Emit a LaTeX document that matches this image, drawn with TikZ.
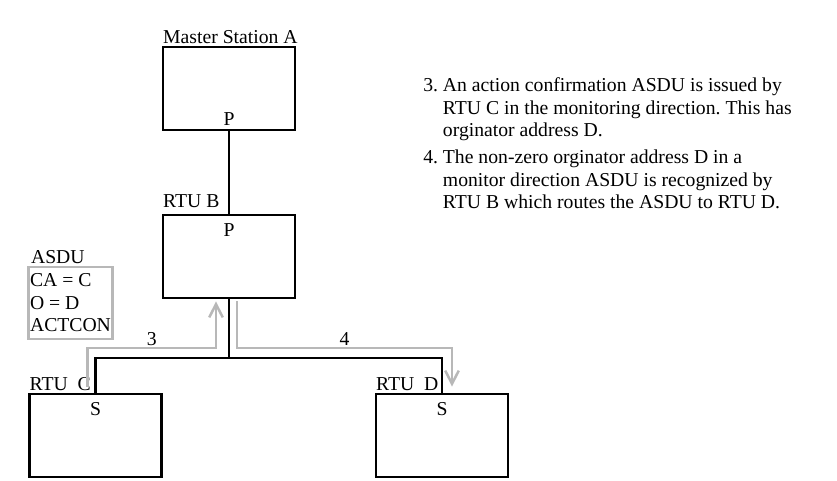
\documentclass[tikz,border=0pt]{standalone}
\usepackage{fontspec}
\setmainfont{Liberation Serif}
\usetikzlibrary{positioning,arrows.meta}
\frenchspacing

\begin{document}
\begin{tikzpicture}[
	font=\fontsize{14}{16}\selectfont,
	box/.style={draw, line width=2.1pt, minimum width=3.3cm, minimum height=2.075cm, inner sep=0pt},
	bus/.style={line width=2.1pt},
	flow/.style={draw=black!28, line width=1.8pt, -{Straight Barb[length=3.3mm,width=3.4mm]}},
	lbl/.style={inner sep=1pt}]

		\useasboundingbox (0,0) rectangle (20.925,12);

		% stations
		\node[box] (master) at (5.725,9.7875) {};
		\node[box] (rtuB) at (5.725,5.5875) {};
		\node[box] (rtuC) at (2.3875,1.1125) {};
		\node[box] (rtuD) at (11.05,1.1125) {};

		\node[lbl, above right=0pt of master.north west] (masterlbl) {Master Station A};
		\node[lbl, above right=0.1cm and 0pt of rtuB.north west] (rtuBlbl) {RTU B};
		\node[lbl, above right=0pt of rtuC.north west] (rtuClbl) {RTU~~C};
		\node[lbl, above right=0pt of rtuD.north west] (rtuDlbl) {RTU~~D};

		\node[lbl, above=0.1cm of master.south] (masterP) {P};
		\node[lbl, below=0.2cm of rtuB.north] (rtuBP) {P};
		\node[lbl, below=0.2cm of rtuC.north] (rtuCS) {S};
		\node[lbl, below=0.2cm of rtuD.north] (rtuDS) {S};

		% links
		\coordinate (tap) at (5.725,3.05);
		\draw[bus] (master.south) -- (rtuB.north);
		\draw[bus] (rtuB.south) -- (tap);
		\draw[bus] (rtuC.north) |- (tap) -| (rtuD.north);

		% ASDU flow
		\coordinate (lane) at (0,3.3);
		\coordinate (out3) at ([xshift=-0.2cm,yshift=0.15cm]rtuC.north);
		\coordinate (in3) at ([xshift=-0.325cm,yshift=-0.05cm]rtuB.south);
		\coordinate (out4) at ([xshift=0.2cm,yshift=-0.05cm]rtuB.south);
		\coordinate (in4) at ([xshift=0.25cm,yshift=0.15cm]rtuD.north);

		\draw[flow] (out3) -- (out3 |- lane) -- node[lbl, above] (step3) {3} (in3 |- lane) -- (in3);
		\draw[flow] (out4) -- (out4 |- lane) -- node[lbl, above] (step4) {4} (in4 |- lane) -- (in4);

		\node[draw=black!28, line width=1.8pt, align=left, inner xsep=1pt, minimum width=2.075cm, minimum height=1.8cm] (asdu) at (1.7625,4.425) {CA = C\\O = D\\ACTCON};
		\node[lbl, above right=0pt and 0.05cm of asdu.north west] (asdulbl) {ASDU};

		% notes
		\node[anchor=base west, inner sep=0pt] (notes) at (10.575,9.7) {\begin{tabular}[t]{@{}l@{\ }l@{}}
			3. & An action confirmation ASDU is issued by\\
			   & RTU C in the monitoring direction. This has\\
			   & orginator address D.\\[3pt]
			4. & The non-zero orginator address D in a\\
			   & monitor direction ASDU is recognized by\\
			   & RTU B which routes the ASDU to RTU D.
		\end{tabular}};
	\end{tikzpicture}
\end{document}
